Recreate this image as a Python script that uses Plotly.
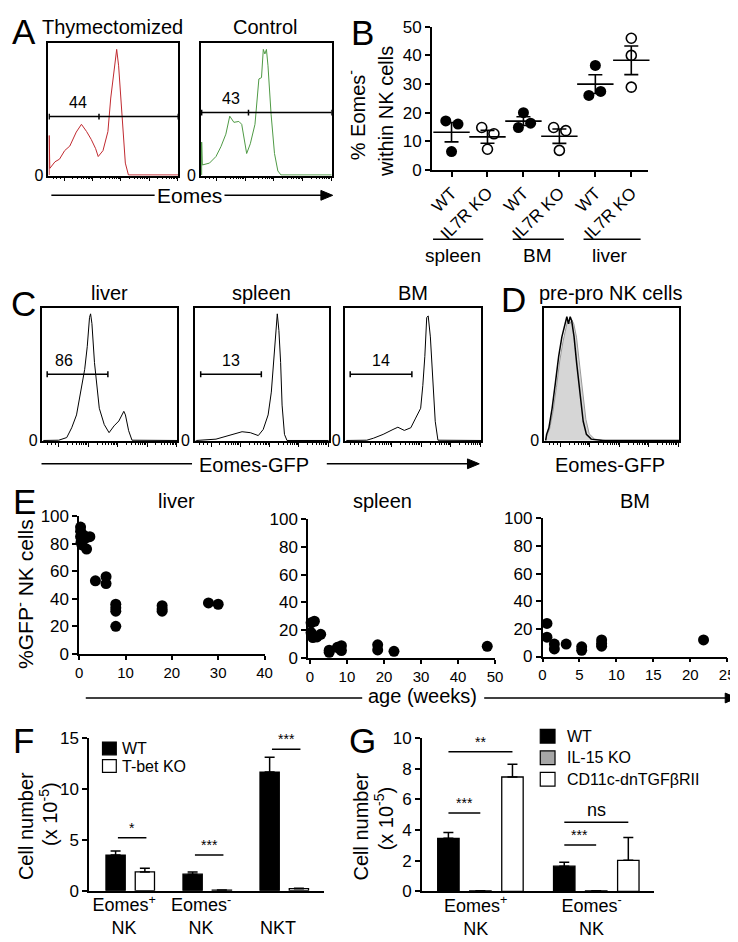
import numpy as np
import plotly.graph_objects as go

W, H = 738, 942
FONT = "Liberation Sans, Arial, Helvetica, sans-serif"


def PX(x):
    return x / W


def PY(y):
    return 1 - y / H


# ======================= DATA =======================
# Panel A: Eomes histograms (x: relative channel 0-100, y: % of max)
thym_x = [0, 0, 0.5, 4.5, 8, 12, 16, 21, 25, 29, 32.6, 36, 38, 41.7, 45.5, 47.7, 50, 52.3, 53.8, 55.3, 57.6, 59, 61.4, 100]
thym_y = [0, 30, 5, 10, 12, 18.5, 22, 32.6, 38.5, 33, 27, 20, 14, 18.5, 33, 58.5, 75.5, 95.5, 83, 60.7, 29, 9, 0, 0]
ctrl_x = [0, 0, 0.5, 6, 11, 14.8, 18.6, 21.6, 24.8, 28.6, 30.8, 34.6, 37.4, 41, 43, 44, 46, 47.4, 48.6, 49.8, 51, 53.4, 56, 58.6, 61, 100]
ctrl_y = [0, 25, 7.6, 9, 14, 21.5, 31, 44.7, 40, 40.7, 38.5, 16.3, 23.7, 38.5, 58.5, 73, 74, 95.5, 92, 95.5, 83, 46, 16.3, 3, 0, 0]
a_titles = ["Thymectomized", "Control"]
a_gate_y = [44.4, 47.4]
a_gate_mid = [38.6, 36.0]
a_gate_label = ["44", "43"]
a_label_x = [22.7, 22.6]

# Panel B
b_cats = ["WT", "IL7R KO", "WT", "IL7R KO", "WT", "IL7R KO"]
b_groups = ["spleen", "BM", "liver"]
b_vals = [[17.1, 16.0, 6.4], [14.8, 12.6, 7.2], [20.0, 14.8, 16.3],
          [14.8, 13.7, 6.8], [36.5, 26.0, 27.4], [46.0, 40.0, 28.9]]
b_filled = [True, False, True, False, True, False]

# Panel C: Eomes-GFP histograms
liv_x = [0, 11.5, 17.5, 21.2, 24.8, 28.5, 30.9, 32.8, 34.5, 35.3, 36.3, 38.2, 40.1, 41.8, 45.5, 49.1, 52.8, 56.4, 60.1, 61.3, 63.7, 66.2, 100]
liv_y = [0, 0.2, 2.2, 9.6, 19.3, 39, 53.7, 70.8, 92.9, 95.6, 88.2, 58.8, 41.4, 24.3, 12, 5.9, 11, 14.7, 22, 19.3, 7.4, 0.2, 0]
spl_x = [0, 0.5, 15.2, 25, 34.8, 41, 47, 50.7, 54.4, 56.8, 58.6, 60.1, 61.3, 62.5, 63.8, 64.9, 66.7, 68.6, 100]
spl_y = [0, 0, 1, 3.7, 6.6, 5.9, 3.7, 8.3, 19.3, 36.5, 58.8, 83, 95.6, 83, 58.8, 26.7, 4.6, 0, 0]
bmh_x = [0, 15.2, 20.1, 27.3, 34.6, 38.2, 43, 47.8, 51.4, 55.1, 56.7, 58.2, 59.6, 60.7, 62.3, 64, 65.9, 67.9, 100]
bmh_y = [0, 0.2, 1.7, 4.6, 8.3, 10, 7.6, 9.6, 16.9, 24.3, 41.4, 63.5, 92.9, 94, 78.2, 46.3, 14.5, 0.2, 0]
c_titles = ["liver", "spleen", "BM"]
c_gate_x0 = [2.9, 3.7, 2.9]
c_gate_x1 = [48.2, 49.3, 48.6]
c_gate_y = [50, 50, 50]
c_gate_label = ["86", "13", "14"]
c_label_x = [15.3, 26.5, 25.4]

# Panel D: pre-pro NK cells
pp_x = [0.5, 1.2, 2.9, 5.3, 7.8, 10.2, 12.6, 15.1, 16.3, 17.5, 18.8, 19.9, 21.7, 23.6, 26.1, 28.5, 30.9, 34.5, 43.1, 100]
pp_y = [0, 4.6, 9.6, 24.3, 43.9, 63.5, 78.2, 88, 93.4, 88, 93.4, 90.4, 78.2, 58.6, 34, 14.5, 4.6, 1, 0, 0]
ppc_x = [0.5, 1.5, 3.5, 6, 8.5, 11, 13.5, 15.8, 17, 18.5, 20, 21.5, 23.5, 25.5, 28, 30.5, 33, 37, 45, 100]
ppc_y = [0, 4, 9, 22, 40, 60, 75, 86, 91, 88, 91, 88, 78, 60, 36, 16, 5, 1, 0, 0]

# Panel E: %GFP- NK cells vs age (weeks)
liver_age = [0.3, 0.3, 0.3, 0.4, 0.6, 1.0, 1.4, 2.3, 1.6, 3.5, 5.8, 5.8, 7.9, 7.9, 7.9, 7.9, 17.9, 17.9, 17.9, 27.9, 30.0]
liver_pct = [92, 89, 85, 81, 79, 86, 84, 85, 76, 53, 56, 51, 36, 33.5, 31, 20, 35, 32.5, 31, 37, 36]
spleen_age = [0.3, 1.2, 0.3, 0.8, 1.9, 2.9, 5.2, 5.2, 7.4, 8.5, 8.5, 8.1, 18.3, 18.3, 22.7, 47.9]
spleen_pct = [25.3, 26.4, 18.2, 14.6, 15.1, 17, 4, 5.5, 7.6, 8.7, 5.2, 6.4, 9.4, 5.7, 4.7, 8.3]
bm_age = [0.6, 0.6, 1.6, 1.6, 3.2, 5.3, 5.3, 8.0, 8.0, 8.0, 21.8]
bm_pct = [24, 14, 9, 5.5, 9, 7, 4.5, 12, 9.5, 7.5, 12]
e_titles = ["liver", "spleen", "BM"]

# Panel F
f_cats = ["Eomes<sup>+</sup><br>NK", "Eomes<sup>-</sup><br>NK", "<br>NKT"]
f_wt = [3.5, 1.63, 11.66]
f_wt_err = [0.4, 0.22, 1.45]
f_ko = [1.85, 0.05, 0.2]
f_ko_err = [0.35, 0.02, 0.05]
f_sig = ["*", "***", "***"]
f_sig_y = [5.2, 3.5, 13.9]

# Panel G
g_cats = ["Eomes<sup>+</sup><br>NK", "Eomes<sup>-</sup><br>NK"]
g_wt = [3.45, 1.64]
g_wt_err = [0.38, 0.25]
g_il15 = [0.03, 0.03]
g_il15_err = [0.0, 0.0]
g_cd = [7.45, 2.02]
g_cd_err = [0.83, 1.49]
g_sig_long = ["**", "ns"]
g_sig_long_y = [9.1, 4.5]
g_sig_short = ["***", "***"]
g_sig_short_y = [5.1, 3.02]

# ======================= FIGURE =======================
fig = go.Figure()
shapes = []
annos = []
layout = {}

BLACK = "black"


def text(px, py, s, size=19, xanchor="center", yanchor="middle", angle=0, color=BLACK):
    annos.append(dict(x=PX(px), y=PY(py), xref="paper", yref="paper", text=s, showarrow=False,
                      xanchor=xanchor, yanchor=yanchor, textangle=angle,
                      font=dict(family=FONT, size=size, color=color)))


def pline(x0, y0, x1, y1, w=1.5):
    shapes.append(dict(type="line", xref="paper", yref="paper", x0=PX(x0), y0=PY(y0), x1=PX(x1), y1=PY(y1),
                       line=dict(color=BLACK, width=w)))


def prect(x0, y0, x1, y1, fill):
    shapes.append(dict(type="rect", xref="paper", yref="paper", x0=PX(x0), y0=PY(y0), x1=PX(x1), y1=PY(y1),
                       line=dict(color=BLACK, width=1.2), fillcolor=fill))


def arrow(x_start, x_tip, y, head=12, half=5):
    pline(x_start, y, x_tip - head + 2, y)
    path = "M{:.5f},{:.5f} L{:.5f},{:.5f} L{:.5f},{:.5f} Z".format(
        PX(x_tip - head), PY(y - half), PX(x_tip), PY(y), PX(x_tip - head), PY(y + half))
    shapes.append(dict(type="path", xref="paper", yref="paper", path=path,
                       fillcolor=BLACK, line=dict(color=BLACK, width=1)))


# flow-axis tick positions (log-like decades)
majors = [11.5, 33.5, 55.5, 77.5, 99.5]
minors = [3, 6, 9]
for d in majors[:-1]:
    for k in range(2, 10):
        minors.append(d + np.log10(k) * 22)

ax_n = [0]


def new_axes(xd, yd, xcfg, ycfg):
    ax_n[0] += 1
    n = ax_n[0]
    sx = "" if n == 1 else str(n)
    base = dict(showgrid=False, zeroline=False, linecolor=BLACK, linewidth=1.5, color=BLACK,
                tickfont=dict(family=FONT, size=15, color=BLACK), fixedrange=True)
    xa = dict(base, domain=[PX(xd[0]), PX(xd[1])], anchor="y" + sx)
    xa.update(xcfg)
    ya = dict(base, domain=[PY(yd[1]), PY(yd[0])], anchor="x" + sx)
    ya.update(ycfg)
    layout["xaxis" + sx] = xa
    layout["yaxis" + sx] = ya
    return "x" + sx, "y" + sx


def hist_axes(xd, yd):
    return new_axes(
        xd, yd,
        dict(range=[-0.6, 100], showline=True, mirror=True, ticks="outside", tickvals=majors, ticklen=4,
             tickwidth=1, showticklabels=False,
             minor=dict(tickvals=minors, ticks="outside", ticklen=2, tickwidth=1, tickcolor=BLACK)),
        dict(range=[-0.6, 100], showline=True, mirror=True, ticks="", tickvals=[0], ticktext=["0"],
             tickfont=dict(family=FONT, size=16, color=BLACK)))


def gate(xr, yr, x0, x1, y, mid=None):
    shapes.append(dict(type="line", xref=xr, yref=yr, x0=x0, x1=x1, y0=y, y1=y, line=dict(color=BLACK, width=1.5)))
    for xv in [x0, x1] + ([mid] if mid is not None else []):
        shapes.append(dict(type="line", xref=xr, yref=yr, x0=xv, x1=xv, y0=y - 2.2, y1=y + 2.2,
                           line=dict(color=BLACK, width=1.5)))


# ---------- Panel A ----------
text(12, 15, "A", size=35)
a_boxes = [(37, 169), (192, 325)]
a_data = [(thym_x, thym_y, "#c02a30"), (ctrl_x, ctrl_y, "#4f9a45")]
for i, ((x0, x1), (hx, hy, col)) in enumerate(zip(a_boxes, a_data)):
    xr, yr = hist_axes((x0, x1), (27, 162))
    fig.add_trace(go.Scatter(x=hx, y=hy, xaxis=xr, yaxis=yr, mode="lines",
                             line=dict(color=col, width=1), showlegend=False, hoverinfo="skip"))
    gate(xr, yr, 0, 100, a_gate_y[i], a_gate_mid[i])
    annos.append(dict(x=a_label_x[i], y=a_gate_y[i] + 3, xref=xr, yref=yr, text=a_gate_label[i],
                      showarrow=False, yanchor="bottom", font=dict(family=FONT, size=16, color=BLACK)))
    text((x0 + x1) / 2 - 1, 10, a_titles[i], size=20)
pline(40, 182, 145, 182)
text(180, 182, "Eomes", size=21)
arrow(216, 326, 182)

# ---------- Panel B ----------
text(356, 16, "B", size=35)
bx, by = new_axes(
    (426.7, 646.7), (10, 156),
    dict(range=[-0.55, 5.47], showline=True, ticks="outside", ticklen=5, tickwidth=1.5,
         tickvals=list(range(len(b_cats))), ticktext=b_cats, tickangle=-45,
         tickfont=dict(family=FONT, size=17, color=BLACK)),
    dict(range=[0, 50], showline=True, ticks="outside", ticklen=5, tickwidth=1.5, dtick=10,
         tickfont=dict(family=FONT, size=17, color=BLACK)))
b_jitter = [[-0.16, 0.18, 0.0], [-0.16, 0.18, 0.0], [0.0, -0.14, 0.2],
            [-0.16, 0.18, 0.0], [0.0, -0.18, 0.15], [0.0, 0.0, 0.0]]
for i, vals in enumerate(b_vals):
    xs = [i + j for j in b_jitter[i]]
    if b_filled[i]:
        mk = dict(size=11, color=BLACK, line=dict(width=0))
    else:
        mk = dict(size=10, color="white", line=dict(width=1.6, color=BLACK))
    fig.add_trace(go.Scatter(x=xs, y=vals, xaxis=bx, yaxis=by, mode="markers", marker=mk,
                             showlegend=False, hoverinfo="skip", cliponaxis=False))
    m = float(np.mean(vals))
    sem = float(np.std(vals, ddof=1) / np.sqrt(len(vals)))
    fig.add_trace(go.Scatter(x=[i], y=[m], xaxis=bx, yaxis=by, mode="markers",
                             marker=dict(symbol="line-ew", size=26, line=dict(width=1.6, color=BLACK)),
                             error_y=dict(type="data", array=[sem], color=BLACK, thickness=1.6, width=7),
                             showlegend=False, hoverinfo="skip", cliponaxis=False))
b_group_px = [(428, 479, 448), (509, 561, 534), (581, 639, 608)]
for (l0, l1, c), g in zip(b_group_px, b_groups):
    pline(l0, 226.7, l1, 226.7)
    text(c, 243, g, size=19)
text(350, 100, "% Eomes<sup>-</sup>", size=20, angle=-90)
text(380, 96, "within NK cells", size=20, angle=-90)

# ---------- Panel C ----------
text(12, 292, "C", size=35)
c_boxes = [(31, 168), (186, 322), (339, 477)]
c_data = [(liv_x, liv_y), (spl_x, spl_y), (bmh_x, bmh_y)]
for i, ((x0, x1), (hx, hy)) in enumerate(zip(c_boxes, c_data)):
    xr, yr = hist_axes((x0, x1), (297, 433))
    fig.add_trace(go.Scatter(x=hx, y=hy, xaxis=xr, yaxis=yr, mode="lines",
                             line=dict(color=BLACK, width=1), showlegend=False, hoverinfo="skip"))
    gate(xr, yr, c_gate_x0[i], c_gate_x1[i], c_gate_y[i])
    annos.append(dict(x=c_label_x[i], y=c_gate_y[i] + 2.5, xref=xr, yref=yr, text=c_gate_label[i],
                      showarrow=False, yanchor="bottom", font=dict(family=FONT, size=16, color=BLACK)))
    text((x0 + x1) / 2, 282, c_titles[i], size=20)
pline(30, 456, 183, 456)
text(246, 457, "Eomes-GFP", size=20)
arrow(320, 475, 456)

# ---------- Panel D ----------
text(510, 288, "D", size=35)
xr, yr = hist_axes((541, 678), (297, 433))
fig.add_trace(go.Scatter(x=ppc_x, y=ppc_y, xaxis=xr, yaxis=yr, mode="lines", fill="tozeroy",
                         fillcolor="#d6d6d6", line=dict(color="#9a9a9a", width=1),
                         showlegend=False, hoverinfo="skip"))
fig.add_trace(go.Scatter(x=pp_x, y=pp_y, xaxis=xr, yaxis=yr, mode="lines",
                         line=dict(color=BLACK, width=1.5), showlegend=False, hoverinfo="skip"))
text(608, 282, "pre-pro NK cells", size=20)
text(608, 457, "Eomes-GFP", size=20)

# ---------- Panel E ----------
text(13, 494, "E", size=35)
e_specs = [
    ((68.3, 256.7), (509.3, 650), [0, 40], 10, liver_age, liver_pct, 167),
    ((301, 491), (512.7, 654), [-0.5, 50], 10, spleen_age, spleen_pct, 377),
    ((539.3, 727), (511.7, 652.7), [0, 25], 5, bm_age, bm_pct, 633),
]
for i, (xd, yd, xrg, dt, ages, pcts, tx) in enumerate(e_specs):
    xr, yr = new_axes(
        xd, yd,
        dict(range=xrg, showline=True, ticks="outside", ticklen=4, tickwidth=1.5,
             tickvals=list(range(0, int(xrg[1]) + 1, dt)), tickfont=dict(family=FONT, size=15, color=BLACK)),
        dict(range=[0, 100], showline=True, ticks="outside", ticklen=5, tickwidth=1.5, dtick=20,
             tickfont=dict(family=FONT, size=17, color=BLACK)))
    fig.add_trace(go.Scatter(x=ages, y=pcts, xaxis=xr, yaxis=yr, mode="markers",
                             marker=dict(size=11, color=BLACK), showlegend=False,
                             hoverinfo="skip", cliponaxis=False))
    text(tx, 494, e_titles[i], size=20)
text(13, 589, "%GFP<sup>-</sup> NK cells", size=21, angle=-90)
pline(75, 695, 356, 695)
text(417, 693, "age (weeks)", size=20)
arrow(480, 737, 695)

# ---------- Panel F ----------
text(12, 738, "F", size=35)
fx, fy = new_axes(
    (78.3, 316.7), (736, 891.7),
    dict(range=[-0.535, 2.51], showline=True, ticks="", tickvals=[-0.08, 0.92, 1.92], ticktext=f_cats,
         ticklabelstandoff=-3, tickfont=dict(family=FONT, size=18, color=BLACK)),
    dict(range=[0, 15], showline=True, ticks="outside", ticklen=5, tickwidth=1.5, dtick=5,
         tickfont=dict(family=FONT, size=17, color=BLACK)))
fpos = list(range(len(f_cats)))
errstyle = dict(type="data", symmetric=False, color=BLACK, thickness=1.5, width=5)
fig.add_trace(go.Bar(x=fpos, y=f_wt, xaxis=fx, yaxis=fy, width=0.25, offset=-0.315,
                     marker=dict(color=BLACK, line=dict(color=BLACK, width=1.3)), name="WT",
                     error_y=dict(errstyle, array=f_wt_err, arrayminus=[0] * 3), showlegend=False))
fig.add_trace(go.Bar(x=fpos, y=f_ko, xaxis=fx, yaxis=fy, width=0.25, offset=0.065,
                     marker=dict(color="white", line=dict(color=BLACK, width=1.3)), name="T-bet KO",
                     error_y=dict(errstyle, array=f_ko_err, arrayminus=[0] * 3), showlegend=False))
for i, (s, yv) in enumerate(zip(f_sig, f_sig_y)):
    shapes.append(dict(type="line", xref=fx, yref=fy, x0=i - 0.16, x1=i + 0.21, y0=yv, y1=yv,
                       line=dict(color=BLACK, width=1.5)))
    annos.append(dict(x=i + 0.025, y=yv, xref=fx, yref=fy, text=s, showarrow=False, yanchor="bottom",
                      font=dict(family=FONT, size=14, color=BLACK)))
prect(92, 740, 106, 753, BLACK)
prect(92, 758, 106, 771, "white")
text(110, 747, "WT", size=16, xanchor="left")
text(110, 765, "T-bet KO", size=16, xanchor="left")
text(15, 826, "Cell number", size=20, angle=-90)
text(37, 813, "(x 10<sup>-5</sup>)", size=20, angle=-90)

# ---------- Panel G ----------
text(356, 738, "G", size=35)
gx, gy = new_axes(
    (416.7, 652.7), (735.7, 892.3),
    dict(range=[-0.504, 1.50], showline=True, ticks="", tickvals=[-0.04, 0.96], ticktext=g_cats,
         ticklabelstandoff=-3, tickfont=dict(family=FONT, size=18, color=BLACK)),
    dict(range=[0, 10], showline=True, ticks="outside", ticklen=5, tickwidth=1.5, dtick=2,
         tickfont=dict(family=FONT, size=17, color=BLACK)))
gpos = list(range(len(g_cats)))
for vals, errs, off, col, nm in [(g_wt, g_wt_err, -0.368, BLACK, "WT"),
                                  (g_il15, g_il15_err, -0.092, "#a6a6a6", "IL-15 KO"),
                                  (g_cd, g_cd_err, 0.185, "white", "CD11c-dnTGF\u03b2RII")]:
    fig.add_trace(go.Bar(x=gpos, y=vals, xaxis=gx, yaxis=gy, width=0.185, offset=off,
                         marker=dict(color=col, line=dict(color=BLACK, width=1.3)), name=nm,
                         error_y=dict(errstyle, array=errs, arrayminus=[0] * 2), showlegend=False))
for i in range(2):
    # long bracket WT -> CD11c, short WT -> IL-15
    shapes.append(dict(type="line", xref=gx, yref=gy, x0=i - 0.275, x1=i + 0.2775,
                       y0=g_sig_long_y[i], y1=g_sig_long_y[i], line=dict(color=BLACK, width=1.5)))
    annos.append(dict(x=i, y=g_sig_long_y[i], xref=gx, yref=gy, text=g_sig_long[i], showarrow=False,
                      yanchor="bottom", font=dict(family=FONT, size=14 if g_sig_long[i] != "ns" else 18, color=BLACK)))
    shapes.append(dict(type="line", xref=gx, yref=gy, x0=i - 0.275, x1=i + 0.0,
                       y0=g_sig_short_y[i], y1=g_sig_short_y[i], line=dict(color=BLACK, width=1.5)))
    annos.append(dict(x=i - 0.14, y=g_sig_short_y[i], xref=gx, yref=gy, text=g_sig_short[i], showarrow=False,
                      yanchor="bottom", font=dict(family=FONT, size=14, color=BLACK)))
prect(537, 727, 552, 741, BLACK)
prect(537, 749, 552, 763, "#a6a6a6")
prect(537, 771, 552, 785, "white")
text(562, 734, "WT", size=16, xanchor="left")
text(562, 756, "IL-15 KO", size=16, xanchor="left")
text(562, 778, "CD11c-dnTGF\u03b2RII", size=16, xanchor="left")
text(355, 826, "Cell number", size=20, angle=-90)
text(378, 818, "(x 10<sup>-5</sup>)", size=20, angle=-90)

fig.update_layout(width=W, height=H, margin=dict(l=0, r=0, t=0, b=0),
                  paper_bgcolor="white", plot_bgcolor="white", barmode="overlay",
                  font=dict(family=FONT, color=BLACK), shapes=shapes, annotations=annos,
                  showlegend=False, **layout)
fig.write_html("out.html")
